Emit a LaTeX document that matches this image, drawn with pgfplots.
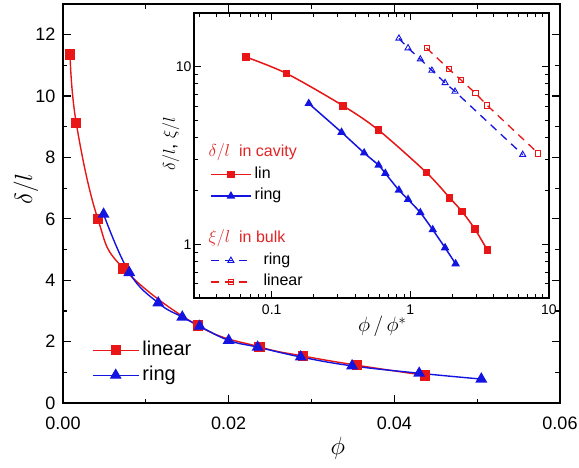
\documentclass[border=0pt]{standalone}
\usepackage{pgfplots}
\pgfplotsset{compat=1.18}
\usepackage{fontspec}
\setmainfont{Liberation Sans}
\definecolor{myred}{RGB}{232,22,22}
\definecolor{myblue}{RGB}{20,20,225}
\definecolor{legred}{RGB}{225,35,35}
\begin{document}
\begin{tikzpicture}
\path[use as bounding box] (0,0) rectangle (579pt,467pt);
% ---------------- main axis ----------------
\begin{axis}[
  at={(63pt,64pt)}, anchor=south west,
  scale only axis, width=497pt, height=399pt,
  xmin=0, xmax=0.06, ymin=0, ymax=13,
  scaled x ticks=false, scaled y ticks=false,
  xtick={0,0.02,0.04,0.06},
  xticklabels={0.00,0.02,0.04,0.06},
  ytick={0,2,4,6,8,10,12},
  minor xtick={0.01,0.03,0.05},
  minor ytick={1,3,5,7,9,11,13},
  tick align=inside,
  major tick length=8pt, minor tick length=4.5pt,
  axis line style={line width=1.3pt},
  every tick/.style={black, line width=1.2pt},
  /pgf/number format/assume math mode=true,
  ticklabel style={font=\fontsize{18}{18}\selectfont},
  yticklabel style={xshift=-4pt},
  xticklabel style={yshift=-10pt},
  xlabel={$\phi$}, ylabel={$\delta/l$},
  label style={font=\fontsize{28}{28}\selectfont},
  xlabel style={at={(axis description cs:0.553,-0.113)}, anchor=center},
  ylabel style={at={(axis description cs:-0.0745,0.536)}, anchor=center},
  legend style={at={(axis description cs:0.058,0.164)}, anchor=north west,
    draw=none, fill=none, inner sep=0pt,
    font=\fontsize{20}{20}\selectfont,
    nodes={inner sep=3pt, text height=14.5pt, text depth=4.5pt},
    row sep=0pt},
  legend cell align=left,
  legend image code/.code={
    \draw[mark repeat=2,mark phase=2,#1] plot coordinates {(0pt,0pt) (23pt,0pt) (46pt,0pt)};
  },
]
\addplot[myred, line width=1.4pt, smooth, tension=0.7, mark=square*, mark size=4.5pt,
  mark options={solid, fill=myred}]
  coordinates {(0.00085,11.35) (0.0016,9.12) (0.0042,6.0) (0.0073,4.38)
  (0.0163,2.52) (0.0237,1.83) (0.0290,1.53) (0.0355,1.23) (0.0437,0.90)};
\addlegendentry{linear}
\addplot[myblue, line width=1.4pt, smooth, tension=0.7, mark=triangle*, mark size=5.5pt,
  mark options={solid, fill=myblue}]
  coordinates {(0.0049,6.15) (0.0080,4.25) (0.0115,3.26) (0.0144,2.80)
  (0.0165,2.50) (0.0200,2.04) (0.0235,1.82) (0.0287,1.50) (0.0349,1.21)
  (0.0430,0.97) (0.0505,0.78)};
\addlegendentry{ring}
\end{axis}
% ---------------- inset axis ----------------
\begin{axis}[
  at={(194pt,169pt)}, anchor=south west,
  scale only axis, width=355pt, height=285pt,
  xmode=log, ymode=log,
  xmin=0.0275, xmax=10, ymin=0.5, ymax=20,
  axis background/.style={fill=white},
  xtick={0.1,1,10}, xticklabels={0.1,1,10},
  ytick={1,10}, yticklabels={1,10},
  minor xtick={0.03,0.04,0.05,0.06,0.07,0.08,0.09,0.2,0.3,0.4,0.5,0.6,0.7,0.8,0.9,2,3,4,5,6,7,8,9},
  minor ytick={0.5,0.6,0.7,0.8,0.9,2,3,4,5,6,7,8,9,20},
  tick align=inside,
  major tick length=7pt, minor tick length=4pt,
  axis line style={line width=1.2pt},
  every tick/.style={black, line width=1.0pt},
  /pgf/number format/assume math mode=true,
  ticklabel style={font=\fontsize{14}{14}\selectfont},
  yticklabel style={xshift=1pt},
  xticklabel style={yshift=-3pt},
  xlabel={$\phi\,/\,\phi^{*}$}, ylabel={$\delta/l$, $\xi/l$},
  xlabel style={font=\fontsize{21}{21}\selectfont, at={(rel axis cs:0.53,-0.10)}, anchor=center},
  ylabel style={font=\fontsize{19}{19}\selectfont, at={(rel axis cs:-0.065,0.54)}, anchor=center},
  legend style={at={(rel axis cs:0.045,0.547)}, anchor=north west,
    draw=none, fill=none, inner sep=0pt,
    font=\fontsize{16}{16}\selectfont,
    nodes={inner sep=3pt, text height=11.5pt, text depth=4pt},
    row sep=0pt},
  legend cell align=left,
  legend image code/.code={
    \draw[mark repeat=2,mark phase=2,#1] plot coordinates {(0pt,0pt) (20pt,0pt) (40pt,0pt)};
  },
]
\addlegendimage{empty legend}
\addlegendentry{\hspace*{-46pt}\textcolor{legred}{$\delta/l$\ \ in cavity}}
\addplot[myred, line width=1.5pt, smooth, mark=square*, mark size=3pt,
  mark options={solid, fill=myred}]
  coordinates {(0.0654,11.3) (0.128,9.14) (0.328,6.01) (0.590,4.39) (1.31,2.53)
  (1.92,1.83) (2.36,1.53) (2.92,1.22) (3.59,0.93)};
\addlegendentry{lin}
\addplot[myblue, line width=1.5pt, smooth, mark=triangle*, mark size=3.5pt,
  mark options={solid, fill=myblue}]
  coordinates {(0.185,6.2) (0.319,4.27) (0.464,3.27) (0.590,2.79) (0.660,2.51)
  (0.827,2.02) (0.962,1.79) (1.18,1.51) (1.45,1.21) (1.78,0.958) (2.12,0.779)};
\addlegendentry{ring}
\addlegendimage{empty legend}
\addlegendentry{~}
\addlegendimage{empty legend}
\addlegendentry{\hspace*{-46pt}\textcolor{legred}{$\xi/l$\ \ in bulk}}
\addplot[myblue, line width=1.3pt, dash pattern=on 8pt off 6pt, mark=triangle, mark size=3.5pt,
  mark options={solid, fill=white, line width=0.9pt}]
  coordinates {(0.827,14.4) (0.962,12.7) (1.18,11.0) (1.43,9.5) (1.78,8.1)
  (2.10,7.24) (6.46,3.2)};
\addlegendentry{\ \ ring}
\addplot[myred, line width=1.3pt, dash pattern=on 8pt off 6pt, mark=square, mark size=2.6pt,
  mark options={solid, fill=white, line width=0.9pt}]
  coordinates {(1.31,12.7) (1.89,9.7) (2.33,8.37) (2.95,7.08) (3.59,6.04) (8.37,3.25)};
\addlegendentry{\ \ linear}
\end{axis}
\end{tikzpicture}
\end{document}
